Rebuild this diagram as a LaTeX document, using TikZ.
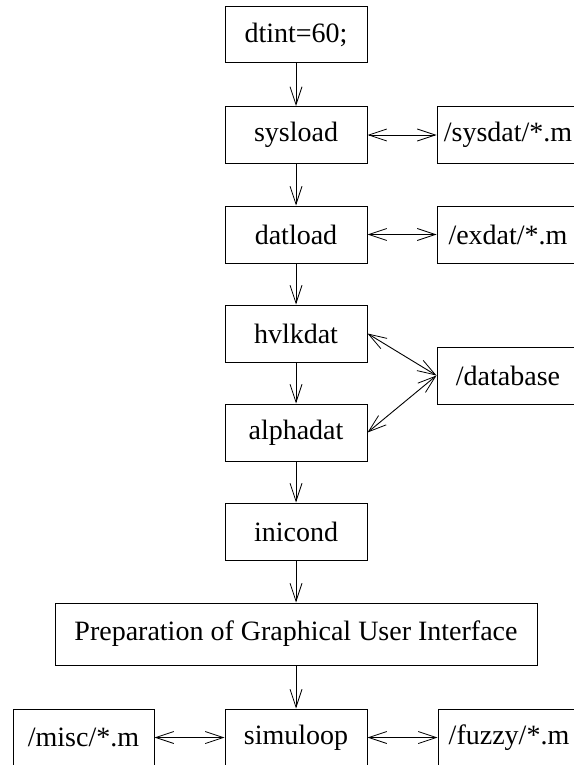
\documentclass[tikz,border=0pt]{standalone}
\usepackage{fontspec}
\setmainfont{Liberation Serif}
\usetikzlibrary{arrows.meta}
\begin{document}
\begin{tikzpicture}[x=1pt,y=-1pt,
  box/.style={draw,line width=1pt,minimum width=142pt,minimum height=57pt,inner sep=0pt,
    font=\fontsize{28}{32}\selectfont},
  tip/.style={line width=0.9pt,-{Straight Barb[length=18pt,width=12pt,line width=0.8pt]}},
  both/.style={line width=0.9pt,{Straight Barb[length=18pt,width=12pt,line width=0.8pt]}-{Straight Barb[length=18pt,width=12pt,line width=0.8pt]}}]
\useasboundingbox (0,0) rectangle (573,765);
\node[box,minimum height=56pt] (dt) at (296,35) {dtint=60;};
\node[box] (sl) at (296,135) {sysload};
\node[box] (sd) at (508,135) {/sysdat/*.m};
\node[box] (dl) at (296,234.5) {datload};
\node[box] (ed) at (508,234.5) {/exdat/*.m};
\node[box] (hv) at (296,333.5) {hvlkdat};
\node[box] (db) at (508,375.5) {/database};
\node[box] (al) at (296,432.5) {alphadat};
\node[box] (ic) at (296,531.5) {inicond};
\node[box,minimum width=482pt,minimum height=62pt] (gui) at (296,634) {Preparation of Graphical User Interface};
\node[box] (sim) at (296,737.5) {simuloop};
\node[box,minimum width=141pt] (mi) at (83.5,737.5) {/misc/*.m};
\node[box] (fz) at (509,737.5) {/fuzzy/*.m};
\draw[tip] (dt) -- (sl);
\draw[tip] (sl) -- (dl);
\draw[tip] (dl) -- (hv);
\draw[tip] (hv) -- (al);
\draw[tip] (al) -- (ic);
\draw[tip] (ic) -- (gui);
\draw[tip] (gui.south -| sim.north) -- (sim);
\draw[both] (sl.east) -- (sd.west);
\draw[both] (dl.east) -- (ed.west);
\draw[both] (hv.east) -- (db.west);
\draw[both] (db.west) -- (al.east);
\draw[both] (mi.east) -- (sim.west);
\draw[both] (sim.east) -- (fz.west);
\end{tikzpicture}
\end{document}
